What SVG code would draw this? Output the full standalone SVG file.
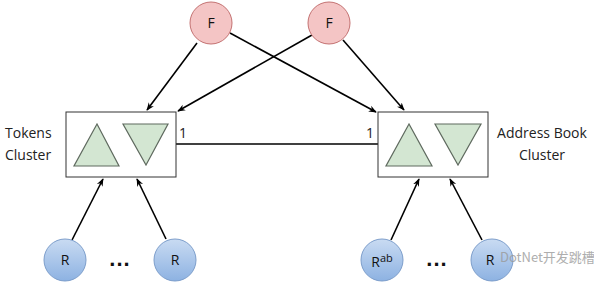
<svg xmlns="http://www.w3.org/2000/svg" width="594" height="283" viewBox="0 0 594 283">
<defs>
<linearGradient id="gb" x1="0" y1="0" x2="0" y2="1">
<stop offset="0" stop-color="#c9dbf2"/>
<stop offset="1" stop-color="#8db2e2"/>
</linearGradient>
<marker id="ah" viewBox="0 0 10 10" refX="9" refY="5" markerWidth="8" markerHeight="8" markerUnits="userSpaceOnUse" orient="auto">
<path d="M0,1 L10,5 L0,9 L3,5 Z" fill="#000"/>
</marker>
<style>
.box{fill:#fff;stroke:#333;stroke-width:1}
.tri{fill:#d3e6d2;stroke:#5f6a5f;stroke-width:1.2}
.f{fill:#f4c5c5;stroke:#c47272;stroke-width:1}
.r{fill:url(#gb);stroke:#7d9ecb;stroke-width:1}
.lbl{font-family:"Open Sans","Liberation Sans",sans-serif;font-size:14px;fill:#222}
.node{font-family:"Open Sans","Liberation Sans",sans-serif;font-size:14px;fill:#111;text-anchor:middle}
.dots{font-family:"Liberation Sans",sans-serif;font-size:22px;font-weight:bold;fill:#111;text-anchor:middle;letter-spacing:1px}
.edge{stroke:#000;stroke-width:1.6;fill:none}
.arr{marker-end:url(#ah)}
.wm{font-family:"Noto Sans CJK SC","Liberation Sans",sans-serif;font-size:13px;fill:#9a9a9a;opacity:0.8}
</style>
</defs>
<rect width="594" height="283" fill="#fff"/>
<g id="connectors">
<line class="edge arr" x1="197" y1="43" x2="147" y2="110"/>
<line class="edge arr" x1="312" y1="35" x2="178" y2="111"/>
<line class="edge arr" x1="230" y1="33" x2="376" y2="112"/>
<line class="edge arr" x1="343" y1="40" x2="404" y2="110"/>
<line class="edge" x1="176" y1="144" x2="378" y2="144"/>
<line class="edge arr" x1="72" y1="240" x2="103" y2="179"/>
<line class="edge arr" x1="166" y1="239" x2="137" y2="179"/>
<line class="edge arr" x1="391" y1="240" x2="419" y2="179"/>
<line class="edge arr" x1="482" y1="240" x2="450" y2="179"/>
</g>
<g id="tokens">
<rect class="box" x="66" y="112" width="110" height="65"/>
<polygon class="tri" points="97,124 74,166 119,166"/>
<polygon class="tri" points="123,124 168,124 146,165"/>
<text class="lbl" x="5" y="138">Tokens</text>
<text class="lbl" x="5" y="160">Cluster</text>
<text class="lbl" x="179" y="138">1</text>
</g>
<g id="addressbook">
<rect class="box" x="378" y="112" width="110" height="65"/>
<polygon class="tri" points="409,124 386,166 432,166"/>
<polygon class="tri" points="435,124 481,124 458,165"/>
<text class="lbl" x="542" y="138" text-anchor="middle">Address Book</text>
<text class="lbl" x="542" y="160" text-anchor="middle">Cluster</text>
<text class="lbl" x="366" y="138">1</text>
</g>
<g id="f1"><circle class="f" cx="211" cy="23" r="21"/><text class="node" x="211" y="28">F</text></g>
<g id="f2"><circle class="f" cx="329" cy="23" r="21"/><text class="node" x="329" y="28">F</text></g>
<g id="r1"><circle class="r" cx="65" cy="260" r="21"/><text class="node" x="65" y="265">R</text></g>
<g id="r2"><circle class="r" cx="175" cy="260" r="21"/><text class="node" x="175" y="265">R</text></g>
<g id="r3"><circle class="r" cx="382" cy="260" r="21"/><text class="node" x="382" y="267">R<tspan font-size="11" dy="-5">ab</tspan></text></g>
<g id="r4"><circle class="r" cx="492" cy="260" r="21"/><text class="node" x="490" y="265">R</text></g>
<g id="dots">
<text class="dots" x="120" y="266">...</text>
<text class="dots" x="437" y="266">...</text>
</g>
<text class="wm" x="500" y="262">DotNet开发跳槽</text>
</svg>
